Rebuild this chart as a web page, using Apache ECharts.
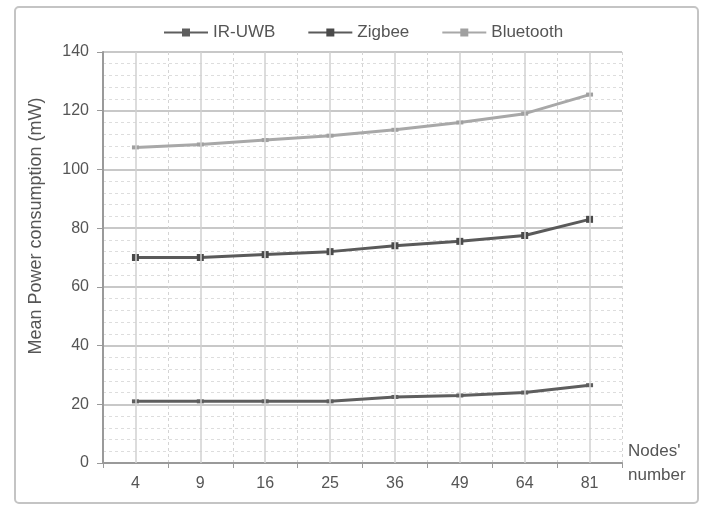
<!DOCTYPE html>
<html>
<head>
<meta charset="utf-8">
<script src="https://cdn.jsdelivr.net/npm/echarts@6/dist/echarts.min.js"></script>
<style>html,body{margin:0;padding:0;background:#fff}#c{width:702px;height:506px}</style>
</head>
<body>
<div id="c"></div>
<script>
var categories = ['4', '9', '16', '25', '36', '49', '64', '81'];
var irUwb = [21, 21, 21, 21, 22.5, 23, 24, 26.5];
var zigbee = [70, 70, 71, 72, 74, 75.5, 77.5, 83];
var bluetooth = [107.5, 108.5, 110, 111.5, 113.5, 116, 119, 125.5];
var yTicks = { min: 0, max: 140, interval: 20 };

var chart = echarts.init(document.getElementById('c'));
var font = 'Liberation Sans, Arial, sans-serif';
chart.setOption({
  animation: false,
  backgroundColor: '#fff',
  textStyle: { fontFamily: font },
  graphic: [
    { type: 'rect', shape: { x: 15, y: 7, width: 683, height: 496, r: 4 },
      style: { fill: 'none', stroke: '#c4c4c4', lineWidth: 2 }, silent: true },
    { type: 'text', x: 36, y: 226, rotation: Math.PI / 2,
      style: { text: 'Mean Power consumption (mW)', fill: '#555', font: '18px ' + font,
        align: 'center', verticalAlign: 'middle' } }
  ],
  legend: {
    top: 19, left: 158, itemWidth: 44, itemHeight: 10, itemGap: 32,
    textStyle: { color: '#555', fontSize: 17 },
    data: ['IR-UWB', 'Zigbee', 'Bluetooth']
  },
  grid: { left: 103, right: 80, top: 52, bottom: 43, containLabel: false },
  xAxis: {
    type: 'category', data: categories, boundaryGap: true,
    name: "Nodes'\nnumber", nameLocation: 'end', nameGap: 6,
    nameTextStyle: { color: '#555', fontSize: 17, align: 'left', verticalAlign: 'middle', lineHeight: 24 },
    axisLine: { lineStyle: { color: '#9a9a9a', width: 2 } },
    axisTick: { show: true, length: 5, lineStyle: { color: '#9a9a9a' } },
    axisLabel: { color: '#555', fontSize: 16, margin: 13 },
    splitLine: { show: true, lineStyle: { color: '#d4d4d4', type: [3, 3], width: 1 } }
  },
  yAxis: {
    type: 'value', min: yTicks.min, max: yTicks.max, interval: yTicks.interval,
    axisLine: { show: true, lineStyle: { color: '#9a9a9a', width: 2 } },
    axisTick: { show: true, length: 6, lineStyle: { color: '#9a9a9a' } },
    axisLabel: { color: '#555', fontSize: 16, margin: 14 },
    splitLine: { show: true, lineStyle: { color: '#c8c8c8', width: 2 } },
    minorTick: { show: false, splitNumber: 5 },
    minorSplitLine: { show: true, lineStyle: { color: '#dddddd', type: [3, 3], width: 1 } }
  },
  series: [
    {
      name: 'gridcenters', type: 'line', data: [], z: 1, silent: true,
      markLine: {
        silent: true, symbol: ['none', 'none'], label: { show: false },
        lineStyle: { color: '#d0d0d0', type: 'solid', width: 1.5 },
        data: categories.map(function (c) { return { xAxis: c }; })
      }
    },
    {
      name: 'IR-UWB', type: 'line', data: irUwb, z: 3,
      symbol: 'rect', symbolSize: [7, 4],
      lineStyle: { color: '#5e5e5e', width: 3 },
      itemStyle: { color: '#5e5e5e' }
    },
    {
      name: 'Zigbee', type: 'line', data: zigbee, z: 3,
      symbol: 'rect', symbolSize: 7,
      lineStyle: { color: '#5a5a5a', width: 3 },
      itemStyle: { color: '#4a4a4a' }
    },
    {
      name: 'Bluetooth', type: 'line', data: bluetooth, z: 3,
      symbol: 'rect', symbolSize: [7, 4],
      lineStyle: { color: '#a8a8a8', width: 3 },
      itemStyle: { color: '#a0a0a0' }
    }
  ]
});
</script>
</body>
</html>
